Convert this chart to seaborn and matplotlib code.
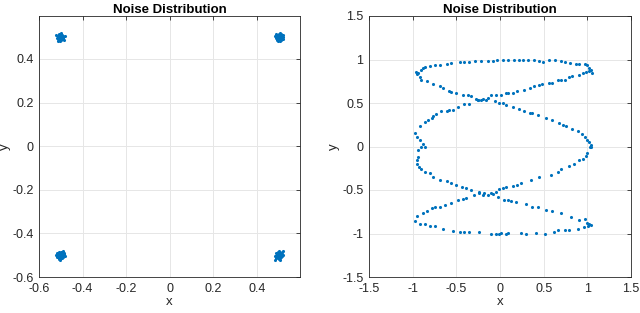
import matplotlib
matplotlib.use("Agg")
import matplotlib.pyplot as plt
import seaborn as sns
import pandas as pd
import numpy as np

# ---- data ----
cluster_tl = [(-0.521, 0.512), (-0.515, 0.505), (-0.510, 0.498), (-0.506, 0.515), (-0.503, 0.493),
              (-0.500, 0.508), (-0.497, 0.486), (-0.494, 0.501), (-0.490, 0.496), (-0.486, 0.489),
              (-0.482, 0.503), (-0.512, 0.490), (-0.508, 0.509), (-0.504, 0.482), (-0.499, 0.514),
              (-0.495, 0.495), (-0.491, 0.507), (-0.517, 0.497), (-0.509, 0.501), (-0.501, 0.499),
              (-0.496, 0.505), (-0.488, 0.494), (-0.505, 0.487), (-0.498, 0.492), (-0.493, 0.511),
              (-0.511, 0.484), (-0.502, 0.503), (-0.507, 0.496), (-0.489, 0.500), (-0.500, 0.517)]
cluster_tr = [(0.482, 0.506), (0.488, 0.514), (0.493, 0.498), (0.497, 0.509), (0.501, 0.489),
              (0.505, 0.503), (0.509, 0.494), (0.513, 0.507), (0.517, 0.499), (0.520, 0.512),
              (0.486, 0.495), (0.491, 0.487), (0.495, 0.502), (0.499, 0.516), (0.503, 0.481),
              (0.507, 0.511), (0.511, 0.486), (0.515, 0.492), (0.490, 0.508), (0.498, 0.493),
              (0.502, 0.505), (0.506, 0.497), (0.494, 0.510), (0.510, 0.501), (0.500, 0.500),
              (0.487, 0.502), (0.512, 0.515), (0.496, 0.484), (0.504, 0.517), (0.518, 0.490)]
cluster_bl = [(-0.522, -0.497), (-0.516, -0.488), (-0.511, -0.506), (-0.507, -0.493), (-0.503, -0.515),
              (-0.499, -0.501), (-0.495, -0.485), (-0.491, -0.509), (-0.487, -0.496), (-0.483, -0.503),
              (-0.518, -0.508), (-0.513, -0.492), (-0.509, -0.517), (-0.505, -0.499), (-0.501, -0.487),
              (-0.497, -0.511), (-0.493, -0.494), (-0.489, -0.505), (-0.506, -0.503), (-0.500, -0.496),
              (-0.494, -0.500), (-0.510, -0.499), (-0.502, -0.522), (-0.492, -0.482), (-0.498, -0.507),
              (-0.514, -0.502), (-0.486, -0.491), (-0.504, -0.490), (-0.496, -0.515), (-0.508, -0.484)]
cluster_br = [(0.481, -0.502), (0.486, -0.511), (0.490, -0.493), (0.494, -0.506), (0.498, -0.486),
              (0.502, -0.499), (0.506, -0.514), (0.510, -0.491), (0.514, -0.504), (0.519, -0.497),
              (0.484, -0.520), (0.488, -0.489), (0.492, -0.500), (0.496, -0.513), (0.500, -0.483),
              (0.504, -0.508), (0.508, -0.495), (0.512, -0.510), (0.516, -0.486), (0.497, -0.497),
              (0.501, -0.505), (0.505, -0.490), (0.493, -0.494), (0.509, -0.502), (0.500, -0.517),
              (0.489, -0.507), (0.513, -0.493), (0.495, -0.489), (0.507, -0.521), (0.521, -0.482)]

curve_top = [(-0.96, 0.86), (-0.94, 0.84), (-0.90, 0.88), (-0.88, 0.90), (-0.86, 0.91), (-0.80, 0.93),
             (-0.75, 0.94), (-0.69, 0.94), (-0.61, 0.95), (-0.56, 0.96), (-0.46, 0.97), (-0.41, 0.97),
             (-0.35, 0.97), (-0.29, 0.98), (-0.22, 0.98), (-0.14, 0.98), (-0.08, 0.98), (-0.03, 0.99),
             (0.03, 0.99), (0.09, 0.99), (0.16, 0.99), (0.22, 0.99), (0.26, 1.00), (0.32, 0.99),
             (0.39, 0.99), (0.45, 0.98), (0.49, 0.97), (0.56, 1.00), (0.63, 0.99), (0.70, 0.98),
             (0.74, 0.97), (0.80, 0.96), (0.87, 0.95), (0.91, 0.95), (0.97, 0.95), (1.00, 0.94),
             (1.02, 0.90), (1.04, 0.88), (1.05, 0.85)]
curve_a = [(-0.95, 0.83), (-0.92, 0.80), (-0.90, 0.77), (-0.84, 0.75), (-0.77, 0.72), (-0.69, 0.69),
           (-0.65, 0.67), (-0.58, 0.64), (-0.56, 0.63), (-0.50, 0.61), (-0.42, 0.59), (-0.37, 0.59),
           (-0.33, 0.58), (-0.27, 0.55), (-0.25, 0.53), (-0.22, 0.54), (-0.16, 0.54), (-0.06, 0.52),
           (-0.01, 0.50), (0.03, 0.50), (0.07, 0.48), (0.15, 0.45), (0.22, 0.43), (0.28, 0.41),
           (0.34, 0.39), (0.37, 0.38), (0.43, 0.36), (0.53, 0.33), (0.60, 0.31), (0.68, 0.27),
           (0.72, 0.25), (0.76, 0.23), (0.83, 0.20), (0.89, 0.18), (0.94, 0.14), (0.97, 0.11),
           (1.00, 0.08), (1.02, 0.05), (1.04, 0.02), (1.04, 0.00)]
curve_b = [(-0.88, 0.03), (-0.86, 0.00), (-0.92, 0.08), (-0.95, 0.11), (-0.97, 0.16), (-0.92, 0.23),
           (-0.86, 0.28), (-0.82, 0.31), (-0.78, 0.33), (-0.77, 0.35), (-0.73, 0.37), (-0.67, 0.41),
           (-0.61, 0.41), (-0.58, 0.42), (-0.54, 0.42), (-0.48, 0.45), (-0.41, 0.49), (-0.35, 0.49),
           (-0.25, 0.54), (-0.20, 0.55), (-0.14, 0.56), (-0.10, 0.59), (-0.05, 0.59), (0.01, 0.59),
           (0.07, 0.61), (0.09, 0.61), (0.15, 0.62), (0.20, 0.64), (0.28, 0.65), (0.34, 0.67),
           (0.39, 0.69), (0.45, 0.71), (0.48, 0.72), (0.56, 0.73), (0.60, 0.73), (0.66, 0.76),
           (0.70, 0.76), (0.74, 0.77), (0.79, 0.80), (0.83, 0.81), (0.91, 0.82), (0.95, 0.84),
           (0.99, 0.86), (1.02, 0.87)]
curve_c = [(-0.90, 0.00), (-0.94, -0.04), (-0.94, -0.12), (-0.95, -0.16), (-0.95, -0.20), (-0.93, -0.24),
           (-0.90, -0.26), (-0.86, -0.29), (-0.80, -0.31), (-0.77, -0.35), (-0.69, -0.39), (-0.61, -0.40),
           (-0.56, -0.42), (-0.50, -0.44), (-0.44, -0.46), (-0.39, -0.48), (-0.33, -0.50), (-0.24, -0.52),
           (-0.20, -0.56), (-0.14, -0.56), (-0.08, -0.55), (-0.02, -0.58), (0.05, -0.61), (0.09, -0.62),
           (0.13, -0.63), (0.18, -0.64), (0.30, -0.66), (0.37, -0.69), (0.43, -0.70), (0.53, -0.73),
           (0.60, -0.74), (0.70, -0.76), (0.81, -0.81), (0.91, -0.84), (0.97, -0.83), (1.00, -0.88),
           (1.02, -0.89), (1.04, -0.90)]
curve_d = [(-0.97, -0.86), (-0.95, -0.80), (-0.88, -0.76), (-0.84, -0.74), (-0.78, -0.71), (-0.75, -0.70),
           (-0.69, -0.69), (-0.63, -0.67), (-0.56, -0.65), (-0.48, -0.62), (-0.42, -0.60), (-0.39, -0.59),
           (-0.30, -0.56), (-0.24, -0.54), (-0.18, -0.53), (-0.10, -0.53), (-0.05, -0.52), (-0.01, -0.49),
           (0.03, -0.48), (0.07, -0.47), (0.15, -0.45), (0.20, -0.44), (0.24, -0.42), (0.36, -0.38),
           (0.45, -0.35), (0.58, -0.33), (0.66, -0.29), (0.70, -0.26), (0.79, -0.22), (0.85, -0.20),
           (0.91, -0.16), (0.95, -0.14), (0.98, -0.11), (1.00, -0.07), (1.03, -0.01)]
curve_e = [(-0.92, -0.89), (-0.86, -0.89), (-0.80, -0.91), (-0.75, -0.91), (-0.65, -0.95), (-0.54, -0.97),
           (-0.46, -0.98), (-0.41, -0.98), (-0.35, -0.98), (-0.24, -0.98), (-0.10, -1.01), (-0.05, -1.01),
           (-0.01, -1.00), (0.01, -0.99), (0.07, -1.00), (0.09, -0.99), (0.24, -0.99), (0.30, -1.00),
           (0.41, -0.99), (0.51, -1.00), (0.62, -0.98), (0.66, -0.96), (0.74, -0.96), (0.79, -0.96),
           (0.89, -0.95), (0.96, -0.93), (1.01, -0.91)]

left_ticks_x = [-0.6, -0.4, -0.2, 0, 0.2, 0.4]
left_ticks_y = [-0.6, -0.4, -0.2, 0, 0.2, 0.4]
right_ticks = [-1.5, -1, -0.5, 0, 0.5, 1, 1.5]
title_text = "Noise Distribution"

# ---- build tables ----
left_df = pd.DataFrame(cluster_tl + cluster_tr + cluster_bl + cluster_br, columns=["x", "y"])
right_df = pd.DataFrame(curve_top + curve_a + curve_b + curve_c + curve_d + curve_e, columns=["x", "y"])

sns.set_theme(style="white")
plt.rcParams["font.family"] = ["Liberation Sans", "DejaVu Sans"]

BLUE = "#0072BD"
AXC = "#262626"

fig = plt.figure(figsize=(6.4, 3.13), dpi=100)
H = 313.0
ax1 = fig.add_axes([39 / 640, 1 - 277 / H, 261 / 640, 261 / H])
ax2 = fig.add_axes([369 / 640, 1 - 277 / H, 262 / 640, 261 / H])


def fmt(v):
    return "%g" % v


def style(ax, xt, yt, xlim, ylim, ylab_x):
    ax.set_xlim(*xlim)
    ax.set_ylim(*ylim)
    ax.set_xticks(xt)
    ax.set_yticks(yt)
    ax.set_xticklabels([fmt(v) for v in xt])
    ax.set_yticklabels([fmt(v) for v in yt])
    ax.grid(True, color="#e6e6e6", linewidth=0.7)
    ax.set_axisbelow(True)
    for sp in ax.spines.values():
        sp.set_visible(True)
        sp.set_color(AXC)
        sp.set_linewidth(0.6)
    ax.tick_params(direction="in", length=3, width=0.6, color=AXC, labelcolor=AXC,
                   labelsize=9, top=True, right=True)
    ax.tick_params(axis="x", pad=4)
    ax.tick_params(axis="y", pad=4)
    ax.set_xlabel("x", fontsize=9.5, color=AXC, labelpad=1)
    ax.set_ylabel("y", fontsize=9.5, color=AXC)
    ax.yaxis.set_label_coords(ylab_x, 0.5)
    ax.set_title(title_text, fontsize=9.5, fontweight="bold", color="black", pad=2)
    ax.set_facecolor("white")


sns.scatterplot(data=left_df, x="x", y="y", ax=ax1, color=BLUE, s=5, linewidth=0, marker="o")
sns.scatterplot(data=right_df, x="x", y="y", ax=ax2, color=BLUE, s=5, linewidth=0, marker="o")

style(ax1, left_ticks_x, left_ticks_y, (-0.6, 0.597), (-0.6, 0.597), (11 - 39) / 261)
style(ax2, right_ticks, right_ticks, (-1.5, 1.5), (-1.5, 1.5), (340 - 369) / 262)

fig.savefig("out.png", dpi=100, facecolor="white")
